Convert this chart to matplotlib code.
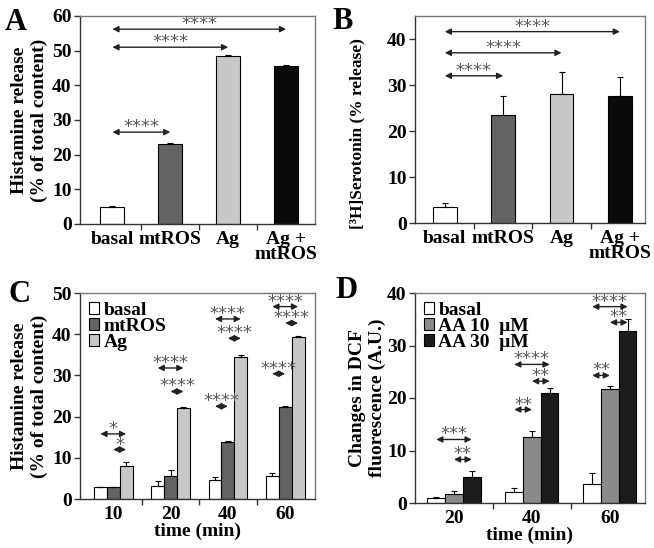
import matplotlib
matplotlib.use("Agg")
import matplotlib.pyplot as plt
import numpy as np

plt.rcParams["font.family"] = ["Liberation Serif", "DejaVu Serif"]
plt.rcParams["font.weight"] = "bold"
plt.rcParams["axes.labelweight"] = "bold"

# ---- panel A: histamine release ----
A_CATS = ["basal", "mtROS", "Ag", "Ag +\nmtROS"]
A_VALS = [5.0, 23.0, 48.5, 45.5]
A_ERR = [0.2, 0.3, 0.3, 0.5]
A_SIG = [(0, 1, 26.5, "****"), (0, 2, 51.0, "****"), (0, 3, 56.2, "****")]

# ---- panel B: serotonin release ----
B_CATS = ["basal", "mtROS", "Ag", "Ag +\nmtROS"]
B_VALS = [3.5, 23.5, 28.0, 27.5]
B_ERR = [0.9, 4.1, 4.8, 4.2]
B_SIG = [(0, 1, 32.0, "****"), (0, 2, 37.0, "****"), (0, 3, 41.6, "****")]

# ---- panel C: histamine release time course ----
C_TIMES = ["10", "20", "40", "60"]
C_SERIES = ["basal", "mtROS", "Ag"]
C_VALS = [
    [2.9, 3.2, 4.6, 5.5],
    [2.9, 5.5, 13.9, 22.4],
    [8.0, 22.1, 34.4, 39.3],
]
C_ERR = [
    [0.1, 1.1, 0.8, 0.7],
    [0.1, 1.6, 0.1, 0.2],
    [0.9, 0.3, 0.6, 0.2],
]
C_SIG = [
    (0, 0, 2, 15.8, "*"), (0, 1, 2, 12.0, "*"),
    (1, 0, 2, 31.8, "****"), (1, 1, 2, 26.1, "****"),
    (2, 0, 2, 43.7, "****"), (2, 1, 2, 39.0, "****"), (2, 0, 1, 22.5, "****"),
    (3, 0, 2, 46.7, "****"), (3, 1, 2, 42.7, "****"), (3, 0, 1, 30.4, "****"),
]

# ---- panel D: DCF fluorescence ----
D_TIMES = ["20", "40", "60"]
D_SERIES = ["basal", "AA 10  \u03bcM", "AA 30  \u03bcM"]
D_VALS = [
    [1.0, 2.1, 3.7],
    [1.7, 12.6, 21.7],
    [5.0, 20.9, 32.8],
]
D_ERR = [
    [0.1, 0.8, 2.1],
    [0.6, 1.2, 0.5],
    [1.1, 1.1, 2.2],
]
D_SIG = [
    (0, 0, 2, 12.1, "***"), (0, 1, 2, 8.3, "**"),
    (1, 0, 2, 26.4, "****"), (1, 1, 2, 23.2, "**"), (1, 0, 1, 17.8, "**"),
    (2, 0, 2, 37.4, "****"), (2, 1, 2, 34.4, "**"), (2, 0, 1, 24.3, "**"),
]

COLORS_ABC = ["white", "#636363", "#c8c8c8", "#0a0a0a"]
COLORS_D = ["white", "#8a8a8a", "#1c1c1c"]

FS = 14


def style_axes(ax, n_cats, xlim, ylim, yticks):
    ax.set_xlim(*xlim)
    ax.set_ylim(*ylim)
    ax.set_yticks(yticks)
    ax.set_xticks(np.arange(n_cats))
    ax.set_xticks(np.arange(n_cats - 1) + 0.5, minor=True)
    ax.tick_params(axis="x", which="major", length=0, pad=5, labelsize=FS)
    ax.tick_params(axis="x", which="minor", length=4, width=1, direction="out", color="#333")
    ax.tick_params(axis="y", length=4, width=1, direction="out", color="#333", labelsize=FS, pad=2)
    for side in ["top", "right"]:
        ax.spines[side].set_color("#777")
    for side in ["left", "bottom"]:
        ax.spines[side].set_color("#333")
    for s in ax.spines.values():
        s.set_linewidth(1)


def sig(ax, x0, x1, y, stars):
    ax.annotate("", xy=(x0, y), xytext=(x1, y),
                arrowprops=dict(arrowstyle="<|-|>", color="#222", lw=1,
                                shrinkA=0, shrinkB=0, mutation_scale=9))
    ax.annotate(stars, xy=((x0 + x1) / 2, y), xytext=(0, 0), textcoords="offset points",
                ha="center", va="baseline", fontsize=13, color="#5a5a5a",
                family="DejaVu Sans", fontweight="normal")


def simple_bars(ax, cats, vals, err, sigs, width, xlim, ylim, yticks):
    x = np.arange(len(cats))
    ax.bar(x, vals, width=width, color=COLORS_ABC, edgecolor="black", linewidth=0.8, zorder=2)
    ax.errorbar(x, vals, yerr=[np.zeros(len(err)), err], fmt="none", ecolor="black",
                elinewidth=0.8, capsize=2, capthick=0.8, zorder=3)
    style_axes(ax, len(cats), xlim, ylim, yticks)
    ax.set_xticklabels(cats, linespacing=0.88)
    for i, j, y, stars in sigs:
        sig(ax, x[i], x[j], y, stars)


def grouped_bars(ax, groups, series, vals, err, sigs, colors, width, xlim, ylim, yticks):
    x = np.arange(len(groups))
    offs = (np.arange(len(series)) - 1) * width
    for k, name in enumerate(series):
        ax.bar(x + offs[k], vals[k], width=width, color=colors[k], edgecolor="black",
               linewidth=0.8, label=name, zorder=2)
        ax.errorbar(x + offs[k], vals[k], yerr=[np.zeros(len(groups)), err[k]], fmt="none",
                    ecolor="black", elinewidth=0.8, capsize=2, capthick=0.8, zorder=3)
    style_axes(ax, len(groups), xlim, ylim, yticks)
    ax.set_xticklabels(groups)
    for g, a, b, y, stars in sigs:
        sig(ax, x[g] + offs[a], x[g] + offs[b], y, stars)
    ax.legend(loc="upper left", frameon=False, fontsize=FS, handlelength=0.55, handleheight=0.55,
              handletextpad=0.2, labelspacing=-0.05, borderaxespad=0.25, borderpad=0.2)
    ax.set_xlabel("time (min)", fontsize=FS, labelpad=0)


W, H = 654, 548
fig = plt.figure(figsize=(W / 100, H / 100), dpi=100)


def add_ax(l, r, t, b):
    return fig.add_axes([l / W, 1 - b / H, (r - l) / W, (b - t) / H])


axA = add_ax(80, 315, 16, 224)
axB = add_ax(415, 645, 16, 223)
axC = add_ax(80, 315, 293, 499)
axD = add_ax(415, 645, 293, 503)

simple_bars(axA, A_CATS, A_VALS, A_ERR, A_SIG, 0.415, (-0.56, 3.5), (0, 60), range(0, 61, 10))
axA.set_ylabel("Histamine release\n(% of total content)", fontsize=FS)
axA.yaxis.set_label_coords(-0.135, 0.5)

simple_bars(axB, B_CATS, B_VALS, B_ERR, B_SIG, 0.41, (-0.51, 3.43), (0, 45), range(0, 41, 10))
axB.set_ylabel("[\u00b3H]Serotonin (% release)", fontsize=12.5)
axB.yaxis.set_label_coords(-0.215, 0.43)

grouped_bars(axC, C_TIMES, C_SERIES, C_VALS, C_ERR, C_SIG, COLORS_ABC[:3], 0.225,
             (-0.58, 3.52), (0, 50), range(0, 51, 10))
axC.set_ylabel("Histamine release\n(% of total content)", fontsize=FS)
axC.yaxis.set_label_coords(-0.135, 0.5)

grouped_bars(axD, D_TIMES, D_SERIES, D_VALS, D_ERR, D_SIG, COLORS_D, 0.227,
             (-0.5, 2.45), (0, 40), range(0, 41, 10))
axD.set_ylabel("Changes in DCF\nfluorescence (A.U.)", fontsize=FS)
axD.yaxis.set_label_coords(-0.125, 0.5)

for label, px, py in [("A", 5, 30), ("B", 332, 29), ("C", 8, 302), ("D", 335, 298)]:
    fig.text(px / W, 1 - py / H, label, fontsize=22, fontweight="bold", va="baseline", ha="left")

fig.savefig("out.png", dpi=100)
